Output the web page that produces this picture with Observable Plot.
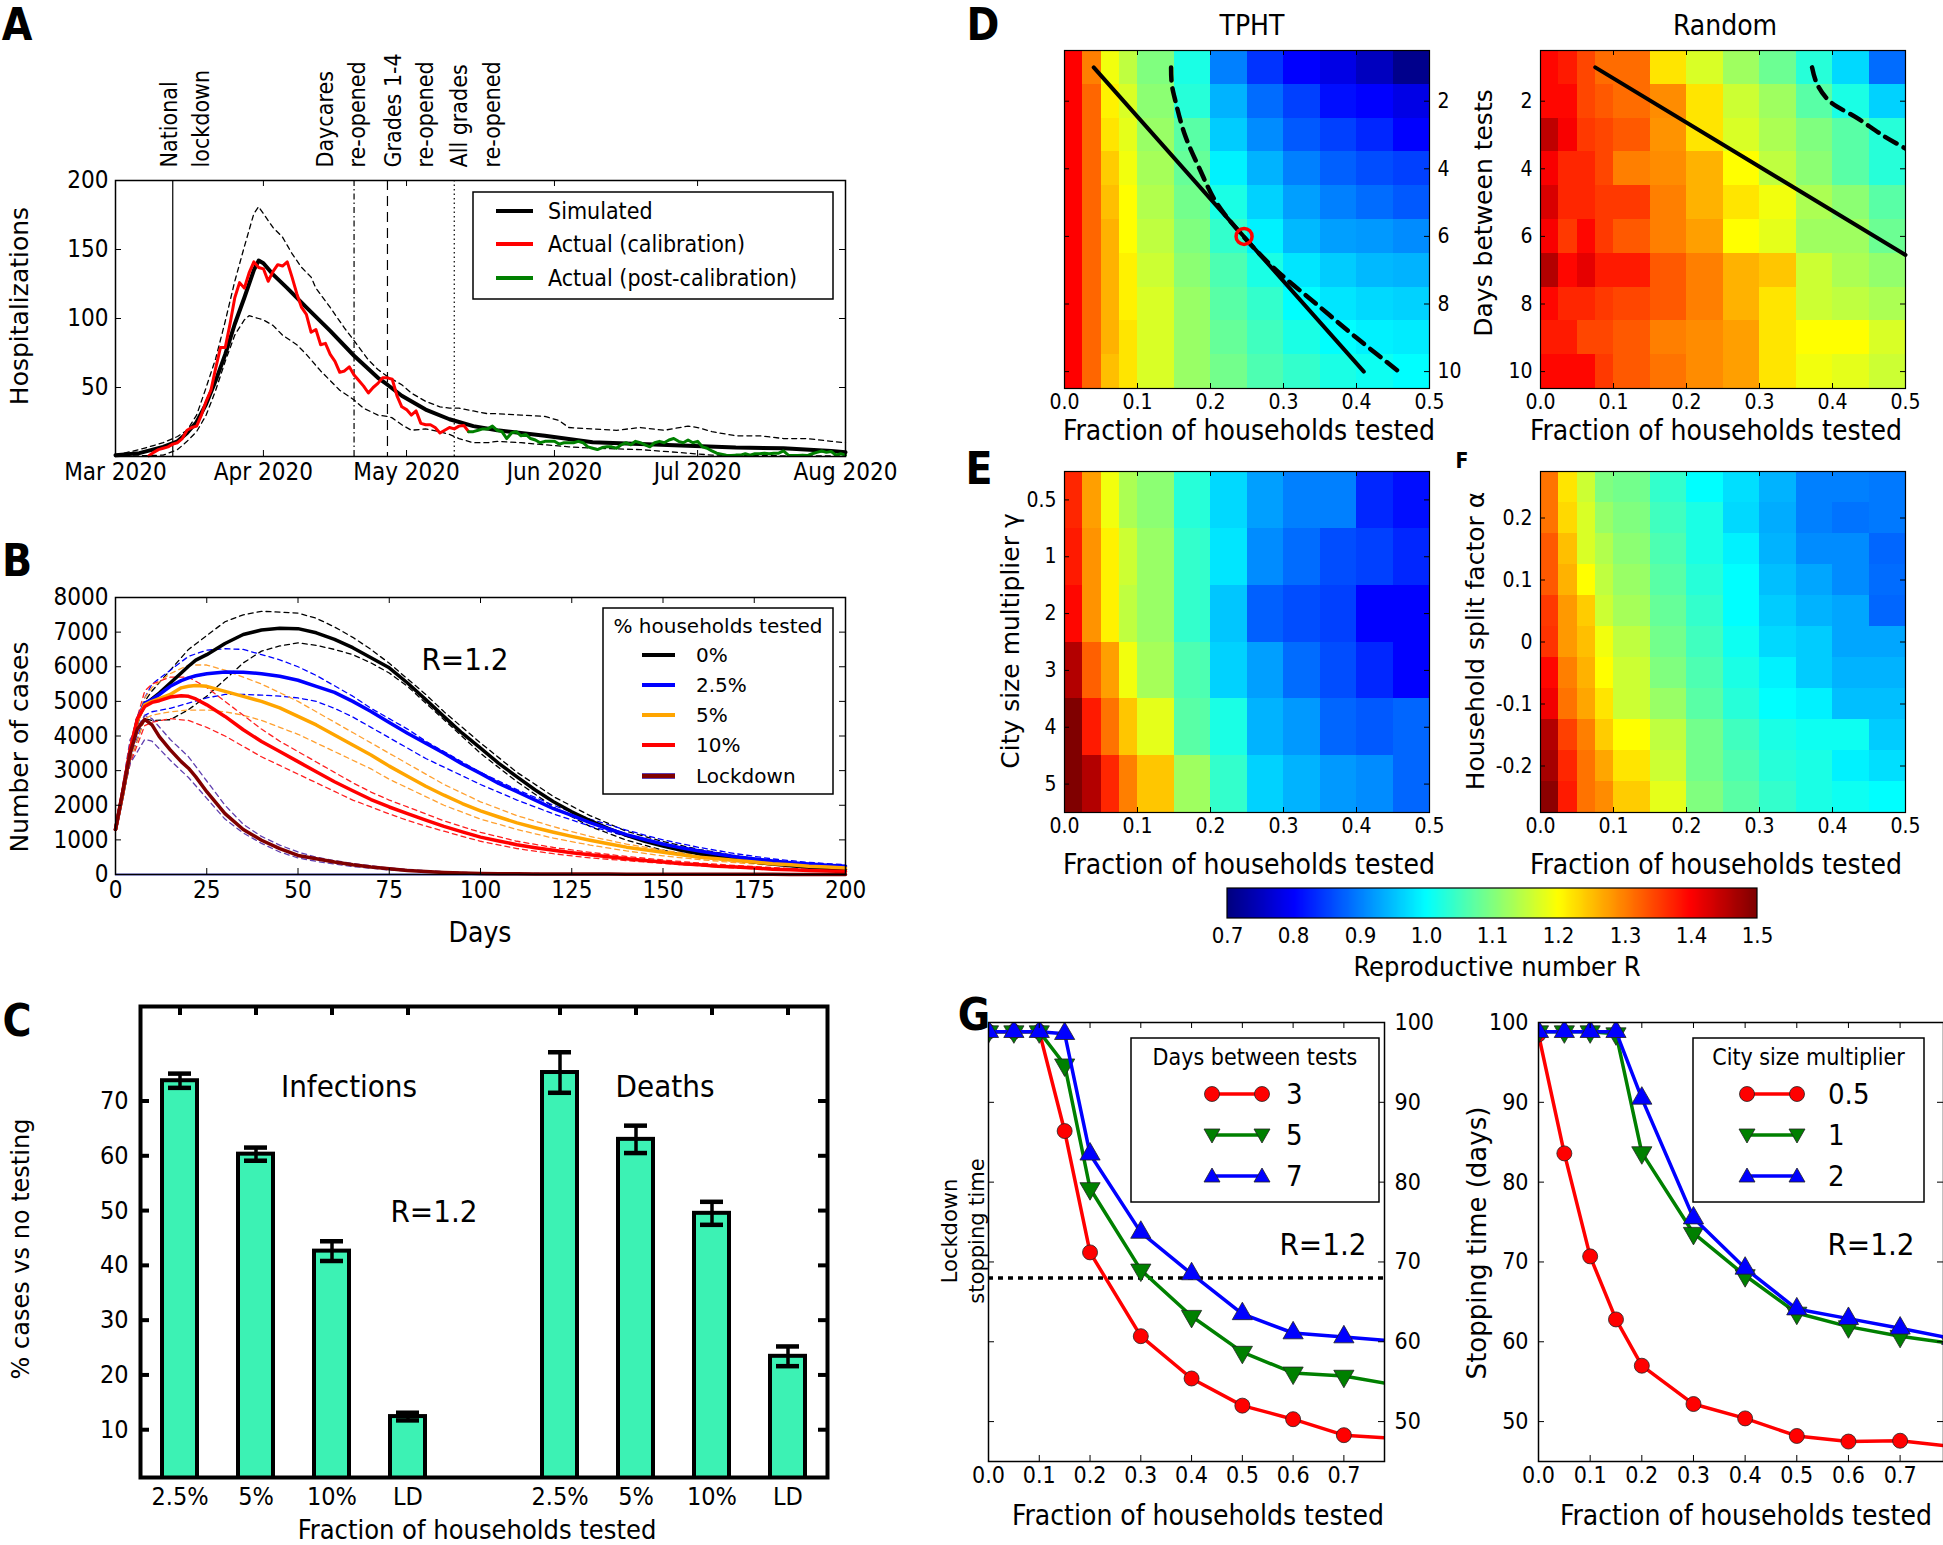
<!DOCTYPE html>
<html><head><meta charset="utf-8">
<script src="https://cdn.jsdelivr.net/npm/d3@7"></script>
<script src="https://cdn.jsdelivr.net/npm/@observablehq/plot@0.6"></script>
<style>
html,body{margin:0;padding:0;background:#fff;}
#root{position:relative;width:1943px;height:1545px;overflow:hidden;background:#fff;}
.abs{position:absolute;}
#cb line{display:none;}
#cb path.domain{display:none;}
</style></head><body><div id="root"></div>
<script>
// ---------------- DATA ----------------
// Panel A (days since 2020-03-01)
const aMonthTicks = ["2020-03-01","2020-04-01","2020-05-01","2020-06-01","2020-07-01","2020-08-01"];
const simDays = [0,5,10,13,15,17,19,21,23,25,27,29,30,31,33,36,40,45,50,55,57,60,65,70,75,80,90,100,110,120,130,140,150,153];
const simVals = [1,2.4,7,11,17,25,38,55,74,96,115,135,142,140,132,122,108,91,73,57,52,44,34,27,22,19,15,10.4,9,7.8,6.5,6,4,3];
const redStart = 7;
const redVals = [0.5,3,5,6,7,9,10,13,19,21,22,30,40,48,64,79,79,96,115,126,122,133,141,137,136,127,134,139,138,141,130,118,108,103,90,92,81,82,74,69,61,62,65,59,55,51,46,50,53,57,57,56,44,36,34,30,33,24,23,23,21,17,19,21,20,22,22.5,18];
const greenStart = 74;
const greenVals = [18,18,19,20,20,22,19,18,13,17,18,15,16,13,12,10,11,11,11,9,10,10,10,11,10,7,6,5,6.5,7,7,6,8.5,10,8.5,11,10,8.5,7,10,11,10,12,13,11,10,12,10,11,7,6,4,2.4,1.7,1,0.7,1,1,2,1,2,2,2.4,2,2.4,2.4,4,1,0.7,0.7,1,0.7,2,3,4,3,3.6,1,2,1];
const upDays = [0,5,10,13,15,17,19,21,23,25,27,29,30,31,33,35,37,39,41,42,45,48,50,53,55,57,60,62,65,68,70,72,75,78,80,85,90,93,95,100,105,110,115,120,122,125,130,135,140,145,150,153];
const upVals = [1,5,10,14.5,19,30,50,71,98,127,152,176,181,176,166,159,147,137,130,122,108,93,84,70,63,58,52,46,40,36,35,35,33,31,31,30,29,26,21,20,19,21,19,22,21,18,15,15,13,13,11,10];
const lowDays = [0,10,13,15,17,19,21,23,25,27,28.5,30,31,33,35,38,40,43,45,47,50,52,55,57,58,60,62,65,68,70,72,75,78,80,85,90,95,100,110,120,125,130,140,153];
const lowVals = [0,1,5,11,18,30,48,69,88,99,102,100,99,95,88,81,74,62,55,48,41,35,30,29,28,23,19,20,18,16,13,10,10,11,10,8.5,7,6,5,2.4,1,0.7,0.5,0.5];
const eventDates = ["2020-03-13","2020-04-20","2020-04-27","2020-05-11"];
const eventLabels = ["National\nlockdown","Daycares\nre-opened","Grades 1-4\nre-opened","All grades\nre-opened"];

// Panel B
const bDays = [0,2,4,6,8,10,12,15,18,20,22,25,30,35,40,45,50,55,60,65,70,75,80,85,90,95,100,105,110,115,120,125,130,135,140,145,150,155,160,165,170,175,180,185,190,195,200];
const b0   = [1300,2340,3500,4470,4900,5070,5240,5530,5820,6015,6190,6350,6670,6930,7060,7110,7100,6980,6790,6550,6260,5970,5530,5050,4560,4080,3650,3210,2820,2440,2100,1810,1560,1330,1130,960,820,700,600,510,430,360,300,250,210,175,145];
const b25  = [1300,2340,3500,4480,4950,5050,5200,5435,5600,5680,5740,5800,5850,5840,5800,5725,5610,5435,5260,5000,4710,4390,4080,3790,3500,3190,2920,2630,2390,2150,1900,1710,1500,1320,1150,1010,880,770,680,590,510,450,390,340,300,270,240];
const b5   = [1300,2340,3500,4450,4900,5000,5080,5200,5390,5435,5460,5435,5290,5145,5000,4810,4565,4320,4030,3740,3450,3130,2840,2550,2290,2050,1840,1660,1490,1350,1220,1100,990,890,790,715,640,570,500,455,405,360,310,280,240,215,190];
const b10  = [1300,2400,3600,4500,4850,4970,5020,5125,5160,5145,5070,4900,4565,4180,3840,3550,3260,2970,2680,2420,2165,1950,1760,1570,1390,1230,1080,970,860,775,700,630,570,510,455,405,360,310,280,240,215,185,155,135,115,100,90];
const bLD  = [1300,2400,3500,4200,4480,4320,3980,3600,3260,3070,2820,2390,1760,1300,990,745,550,455,360,280,215,165,115,90,60,40,30,25,20,18,15,13,12,11,10,9,8,7,6,5,5,4,4,3,3,3,3];
const bandDays = [0,4,8,10,15,20,25,30,35,40,45,50,55,60,65,70,75,80,85,90,95,100,110,120,130,140,150,160,170,180,190,200];
const b0Up  = [1300,3600,5000,5300,5900,6500,6900,7300,7500,7600,7580,7550,7400,7150,6850,6500,6100,5650,5200,4700,4250,3800,2950,2250,1700,1250,950,720,540,400,300,230];
const b0Lo  = [1300,3300,4500,4450,4470,4760,5150,5630,6110,6450,6600,6690,6620,6500,6350,6110,5820,5435,4950,4470,3985,3500,2680,1950,1390,990,700,500,380,290,215,165];
const b25Up = [1300,3700,5100,5500,5900,6300,6480,6520,6500,6350,6200,6000,5750,5450,5150,4800,4500,4200,3850,3550,3250,2950,2450,2000,1600,1280,1000,780,600,450,350,280];
const b25Lo = [1300,3300,4600,4700,4800,4950,5100,5200,5200,5180,5150,5100,5000,4800,4550,4250,3950,3650,3350,3100,2850,2600,2150,1750,1400,1100,850,650,500,380,290,220];
const b5Up  = [1300,3700,5100,5400,5800,6050,6050,5900,5700,5500,5250,5000,4700,4400,4100,3800,3500,3200,2900,2600,2350,2100,1700,1380,1100,880,700,560,450,350,280,220];
const b5Lo  = [1300,3300,4500,4600,4700,4750,4750,4700,4600,4450,4250,4050,3800,3550,3300,3050,2750,2500,2250,2000,1800,1600,1300,1050,850,680,540,430,340,270,210,160];
const b10Up = [1300,3800,5300,5500,5700,5700,5400,5000,4600,4200,3850,3550,3250,2950,2650,2380,2150,1950,1750,1550,1380,1220,960,780,640,520,420,330,260,200,150,120];
const b10Lo = [1300,3200,4300,4400,4500,4450,4250,4000,3700,3400,3150,2900,2650,2400,2150,1950,1750,1560,1400,1250,1100,960,750,600,480,400,320,250,190,150,110,80];
const bLDUp = [1300,3900,4600,4500,3900,3400,2700,2000,1450,1100,850,650,500,400,320,250,190,150,110,80,60,50,35,25,18,12,10,8,6,5,5,5];
const bLDLo = [1300,3200,3900,3850,3300,2800,2200,1600,1200,900,650,480,380,300,230,180,130,100,75,60,45,35,25,20,15,10,8,6,5,4,3,3];
const bLegendLabels = ["0%","2.5%","5%","10%","Lockdown"];

// Panel C
const cCats = ["i25","i5","i10","iLD","gap","d25","d5","d10","dLD"];
const cLabels = ["2.5%","5%","10%","LD","","2.5%","5%","10%","LD"];
const cMeans = [73.7,60.3,42.6,12.4,0,75.2,63.0,49.5,23.4];
const cErrs  = [1.3,1.2,1.8,0.7,0,3.7,2.5,2.1,1.8];

// Panels D/E/F (reproductive number R)
const colEdges = [0,0.025,0.05,0.075,0.1,0.15,0.2,0.25,0.3,0.35,0.4,0.45,0.5];
const dDays = [1,2,3,4,5,6,7,8,9,10];
const tphtR = [
 [1.40,1.30,1.19,1.15,1.10,1.02,0.90,0.84,0.80,0.78,0.75,0.71],
 [1.40,1.32,1.21,1.17,1.11,1.03,0.94,0.885,0.85,0.81,0.80,0.78],
 [1.40,1.32,1.22,1.18,1.12,1.07,0.96,0.91,0.87,0.85,0.83,0.80],
 [1.40,1.32,1.24,1.19,1.13,1.08,0.99,0.94,0.90,0.875,0.86,0.85],
 [1.40,1.32,1.25,1.20,1.14,1.09,1.02,0.965,0.925,0.90,0.885,0.87],
 [1.40,1.32,1.26,1.20,1.15,1.10,1.04,0.99,0.945,0.925,0.92,0.91],
 [1.40,1.32,1.26,1.21,1.16,1.11,1.06,1.02,0.98,0.96,0.945,0.94],
 [1.40,1.32,1.26,1.21,1.17,1.12,1.07,1.04,1.00,0.98,0.97,0.965],
 [1.40,1.32,1.26,1.22,1.17,1.12,1.08,1.05,1.02,1.00,0.99,0.985],
 [1.40,1.32,1.25,1.22,1.17,1.12,1.09,1.06,1.04,1.02,1.01,1.00]];
const randomR = [
 [1.395,1.38,1.345,1.315,1.315,1.22,1.17,1.125,1.085,1.03,0.97,0.885],
 [1.395,1.395,1.345,1.33,1.315,1.29,1.22,1.16,1.125,1.07,1.02,0.965],
 [1.45,1.405,1.355,1.345,1.33,1.285,1.22,1.17,1.135,1.10,1.07,1.03],
 [1.405,1.37,1.37,1.345,1.30,1.29,1.26,1.20,1.15,1.11,1.07,1.03],
 [1.43,1.37,1.37,1.355,1.355,1.30,1.26,1.22,1.19,1.135,1.11,1.07],
 [1.405,1.355,1.395,1.355,1.33,1.30,1.275,1.20,1.18,1.125,1.125,1.085],
 [1.46,1.395,1.42,1.38,1.38,1.33,1.30,1.26,1.245,1.16,1.135,1.115],
 [1.395,1.37,1.37,1.355,1.345,1.33,1.30,1.26,1.22,1.16,1.15,1.135],
 [1.38,1.38,1.345,1.345,1.33,1.30,1.29,1.275,1.22,1.20,1.20,1.17],
 [1.395,1.395,1.395,1.355,1.33,1.31,1.29,1.275,1.22,1.19,1.18,1.16]];
const tphtSolidX = [0.04,0.41], tphtSolidY = [1,10];
const tphtDashX = [0.146,0.147,0.152,0.165,0.185,0.208,0.245,0.29,0.345,0.40,0.458];
const tphtDashY = [1,1.5,2,3,4,5,6,7,8,9,10];
const randSolidX = [0.075,0.5], randSolidY = [1,6.55];
const randDashX = [0.372,0.379,0.396,0.434,0.468,0.5];
const randDashY = [1,1.5,2,2.5,3,3.4];
const markX = [0.246], markY = [6];
const cityLabels = ["0.5","1","2","3","4","5"];
const cityR = [
 [1.37,1.275,1.19,1.135,1.11,1.03,0.97,0.925,0.90,0.90,0.83,0.81],
 [1.38,1.285,1.21,1.16,1.12,1.04,0.98,0.91,0.885,0.86,0.85,0.83],
 [1.395,1.285,1.21,1.15,1.12,1.04,0.955,0.875,0.86,0.85,0.80,0.80],
 [1.46,1.325,1.275,1.19,1.13,1.06,0.965,0.925,0.885,0.86,0.83,0.80],
 [1.50,1.38,1.31,1.245,1.18,1.07,1.02,0.94,0.92,0.88,0.87,0.88],
 [1.50,1.46,1.37,1.30,1.245,1.125,1.04,0.965,0.94,0.92,0.91,0.88]];
const splitRows = [0.25,0.2,0.15,0.1,0.05,0,-0.05,-0.1,-0.15,-0.2,-0.25];
const splitR = [
 [1.31,1.22,1.16,1.10,1.09,1.04,1.00,0.975,0.94,0.90,0.90,0.895],
 [1.31,1.23,1.17,1.12,1.10,1.05,1.02,0.97,0.935,0.90,0.89,0.895],
 [1.33,1.25,1.17,1.14,1.11,1.06,1.02,0.99,0.94,0.91,0.91,0.88],
 [1.33,1.26,1.20,1.15,1.12,1.07,1.03,1.00,0.95,0.93,0.91,0.885],
 [1.355,1.28,1.24,1.16,1.13,1.08,1.04,1.00,0.96,0.94,0.93,0.88],
 [1.36,1.28,1.25,1.19,1.15,1.09,1.05,1.01,0.97,0.96,0.93,0.93],
 [1.395,1.30,1.26,1.20,1.16,1.10,1.06,1.02,0.99,0.96,0.94,0.94],
 [1.41,1.31,1.27,1.22,1.16,1.12,1.07,1.03,1.00,0.99,0.95,0.95],
 [1.46,1.35,1.30,1.24,1.20,1.15,1.09,1.05,1.02,1.01,1.01,0.96],
 [1.47,1.37,1.31,1.27,1.22,1.16,1.09,1.06,1.03,1.02,0.99,0.975],
 [1.49,1.38,1.31,1.29,1.24,1.18,1.10,1.07,1.04,1.02,1.01,1.00]];

// Panel G
const gX = [0,0.05,0.1,0.15,0.2,0.3,0.4,0.5,0.6,0.7,0.8];
const gDays3 = [98.85,98.85,98.85,86.4,71.2,60.7,55.4,52.0,50.3,48.3,47.9];
const gDays5 = [98.85,98.85,98.85,94.7,79.2,69.0,63.2,58.7,56.1,55.7,54.6];
const gDays7 = [98.85,98.85,98.85,98.6,83.5,73.7,68.5,63.5,61.1,60.6,60.1];
const gCity05 = [98.5,83.6,70.7,62.8,57.0,52.2,50.4,48.2,47.5,47.6,46.9];
const gCity1  = [98.85,98.85,98.85,98.6,83.7,73.6,68.3,63.6,61.9,60.7,59.8];
const gCity2  = [98.85,98.85,98.85,98.85,90.5,75.5,69.2,64.1,62.9,61.7,60.4];
const lockdownStop = [68];

// ---------------- HELPERS ----------------
const COND = '"DejaVu Sans Condensed","Liberation Sans Narrow","DejaVu Sans",sans-serif';
const SANS = '"DejaVu Sans","Noto Sans",sans-serif';
const root = document.getElementById("root");
const dt = d => new Date(Date.UTC(2020, 2, 1 + d));
function place(node, left, top) {
  const d = document.createElement("div"); d.className = "abs";
  d.style.left = left + "px"; d.style.top = top + "px"; d.appendChild(node); root.appendChild(d); return d;
}
function baseStyle(size) {
  return {fontFamily: COND, fontStretch: "condensed", fontSize: size + "px", background: "transparent", overflow: "visible", color: "black"};
}
function jet(t) {
  const c = v => Math.max(0, Math.min(1, v));
  const r = c(1.5 - Math.abs(4 * t - 3)), g = c(1.5 - Math.abs(4 * t - 2)), b = c(1.5 - Math.abs(4 * t - 1));
  return `rgb(${Math.round(r * 255)},${Math.round(g * 255)},${Math.round(b * 255)})`;
}
function tickMarksX(vals, H, len, sw, top = true, bottom = true) {
  const m = [];
  if (bottom) m.push(Plot.tickX(vals, {x: d => d, insetTop: H - len, strokeWidth: sw}));
  if (top) m.push(Plot.tickX(vals, {x: d => d, insetBottom: H - len, strokeWidth: sw}));
  return m;
}
function tickMarksY(vals, W, len, sw, left = true, right = true) {
  const m = [];
  if (left) m.push(Plot.tickY(vals, {y: d => d, insetRight: W - len, strokeWidth: sw}));
  if (right) m.push(Plot.tickY(vals, {y: d => d, insetLeft: W - len, strokeWidth: sw}));
  return m;
}
const pts = (xs, ys) => xs.map((x, i) => ({x, y: ys[i]}));

// ---------------- PANEL A ----------------
{
  const W = 730, H = 276;
  const months = aMonthTicks.map(s => new Date(s));
  const sim = simDays.map((d, i) => ({x: dt(d), y: simVals[i]}));
  const red = redVals.map((v, i) => ({x: dt(redStart + i), y: v}));
  const green = greenVals.map((v, i) => ({x: dt(greenStart + i), y: v}));
  const up = upDays.map((d, i) => ({x: dt(d), y: upVals[i]}));
  const lo = lowDays.map((d, i) => ({x: dt(d), y: lowVals[i]}));
  const ev = eventDates.map((s, i) => ({x: new Date(s), label: eventLabels[i]}));
  const evDash = [null, "6,3,1.5,3", "10,6", "1.5,3"];
  const evDx = [10, -15, 19, 19];
  const marks = [
    Plot.line(up, {x: "x", y: "y", strokeWidth: 1.3, strokeDasharray: "5,4"}),
    Plot.line(lo, {x: "x", y: "y", strokeWidth: 1.3, strokeDasharray: "5,4"}),
  ];
  ev.forEach((e, i) => {
    marks.push(Plot.ruleX([e], {x: "x", strokeWidth: 1.2, strokeDasharray: evDash[i]}));
    marks.push(Plot.text([e], {x: "x", frameAnchor: "top", text: "label", rotate: -90, textAnchor: "start",
      lineAnchor: "middle", lineHeight: 1.4, dx: evDx[i], dy: -13, fontFamily: SANS, fontSize: 23}));
  });
  marks.push(
    Plot.line(sim, {x: "x", y: "y", strokeWidth: 4}),
    Plot.line(red, {x: "x", y: "y", stroke: "#ff0000", strokeWidth: 3}),
    Plot.line(green, {x: "x", y: "y", stroke: "#008000", strokeWidth: 3}),
    ...tickMarksX(months, H, 6, 1),
    ...tickMarksY([50, 100, 150, 200], W, 6, 1),
    Plot.frame({strokeWidth: 1.5}),
    Plot.axisX(months, {tickSize: 0, tickPadding: 6, tickFormat: d3.utcFormat("%b %Y"), label: null}),
    Plot.axisY([50, 100, 150, 200], {tickSize: 0, tickPadding: 7, label: null})
  );
  const p = Plot.plot({width: 905, height: 506, marginLeft: 115, marginRight: 60, marginTop: 180, marginBottom: 50,
    style: baseStyle(24), x: {type: "utc", domain: [dt(0), dt(153)]}, y: {domain: [0, 200]}, marks});
  place(p, 0, 0);
}

// ---------------- PANEL B ----------------
{
  const W = 730, H = 277;
  const series = [[b0, "#000000"], [b25, "#0000ff"], [b5, "#ffa500"], [b10, "#ff0000"], [bLD, "#800000"]];
  const bands = [[b0Up, "#000000"], [b0Lo, "#000000"], [b25Up, "#0000ff"], [b25Lo, "#0000ff"], [b5Up, "#ffa030"], [b5Lo, "#ffa030"],
                 [b10Up, "#ff2020"], [b10Lo, "#ff2020"], [bLDUp, "#6040b0"], [bLDLo, "#6040b0"]];
  const marks = [];
  bands.forEach(([v, c]) => marks.push(Plot.line(pts(bandDays, v), {x: "x", y: "y", stroke: c, strokeWidth: 1.3, strokeDasharray: "5,4"})));
  marks.push(Plot.ruleY([0], {stroke: "#0000ff", strokeWidth: 1.5}));
  series.forEach(([v, c]) => marks.push(Plot.line(pts(bDays, v), {x: "x", y: "y", stroke: c, strokeWidth: 3.5})));
  const xt = d3.range(0, 201, 25), yt = d3.range(0, 8001, 1000);
  marks.push(
    ...tickMarksX(xt, H, 6, 1),
    ...tickMarksY(yt, W, 6, 1),
    Plot.frame({strokeWidth: 1.5}),
    Plot.axisX(xt, {tickSize: 0, tickPadding: 6, tickFormat: d => String(d), label: null}),
    Plot.axisY(yt, {tickSize: 0, tickPadding: 7, tickFormat: d => String(d), label: null})
  );
  const p = Plot.plot({width: 905, height: 347, marginLeft: 115, marginRight: 60, marginTop: 20, marginBottom: 50,
    style: baseStyle(24), x: {domain: [0, 200]}, y: {domain: [0, 8000]}, marks});
  place(p, 0, 577);
}

// ---------------- PANEL C ----------------
{
  const W = 687, H = 471;
  const data = cCats.map((c, i) => ({c, v: cMeans[i], e: cErrs[i]}));
  const bars = data.filter(d => d.v > 0);
  const yt = [10, 20, 30, 40, 50, 60, 70];
  const marks = [
    Plot.barY(bars, {x: "c", y: "v", fill: "#3cf2b4", stroke: "#000", strokeWidth: 4, clip: true}),
    Plot.ruleX(bars, {x: "c", y1: d => d.v - d.e, y2: d => d.v + d.e, strokeWidth: 3.5}),
    Plot.tickY(bars, {x: "c", y: d => d.v + d.e, insetLeft: 6, insetRight: 6, strokeWidth: 4.5}),
    Plot.tickY(bars, {x: "c", y: d => d.v - d.e, insetLeft: 6, insetRight: 6, strokeWidth: 4.5}),
    Plot.tickX(bars.map(d => d.c), {x: d => d, insetBottom: H - 9, strokeWidth: 4}),
    ...tickMarksY(yt, W, 9, 4),
    Plot.frame({strokeWidth: 4}),
    Plot.axisX(cCats, {tickSize: 0, tickPadding: 10, tickFormat: d => cLabels[cCats.indexOf(d)], label: null}),
    Plot.axisY(yt, {tickSize: 0, tickPadding: 12, label: null})
  ];
  const p = Plot.plot({width: 857, height: 536, marginLeft: 140, marginRight: 30, marginTop: 20, marginBottom: 45,
    style: baseStyle(25), x: {type: "band", domain: cCats, paddingInner: 0.54, paddingOuter: 0.27},
    y: {domain: [1.28, 87.25]}, marks});
  place(p, 0, 986);
}

// ---------------- HEATMAPS ----------------
const colorOpt = {type: "linear", domain: [0.7, 1.5], interpolate: jet, clamp: true};
function cellsFrom(matrix, rowVals, half) {
  const out = [];
  matrix.forEach((row, i) => row.forEach((r, j) => out.push({x1: colEdges[j], x2: colEdges[j + 1], y1: rowVals[i] - half, y2: rowVals[i] + half, r})));
  return out;
}
function heatmap({cells, W, H, ml, mr, yDomain, yTicks, yFormat, yAnchor, extra = []}) {
  const xt = [0, 0.1, 0.2, 0.3, 0.4, 0.5];
  return Plot.plot({width: ml + W + mr, height: 10 + H + 40, marginLeft: ml, marginRight: mr, marginTop: 10, marginBottom: 40,
    style: baseStyle(21), x: {domain: [0, 0.5]}, y: {domain: yDomain, reverse: true}, color: colorOpt,
    marks: [
      Plot.rect(cells, {x1: "x1", x2: "x2", y1: "y1", y2: "y2", fill: "r", shapeRendering: "crispEdges"}),
      ...extra,
      ...tickMarksX(xt, H, 5, 1),
      ...tickMarksY(yTicks, W, 5, 1),
      Plot.frame({strokeWidth: 1.2}),
      Plot.axisX(xt, {tickSize: 0, tickPadding: 6, tickFormat: d3.format(".1f"), label: null}),
      Plot.axisY(yTicks, {anchor: yAnchor, tickSize: 0, tickPadding: 8, tickFormat: yFormat, label: null})
    ]});
}
// D left (TPHT)
place(heatmap({cells: cellsFrom(tphtR, dDays, 0.5), W: 365, H: 338, ml: 20, mr: 50, yDomain: [0.5, 10.5],
  yTicks: [2, 4, 6, 8, 10], yFormat: d => d, yAnchor: "right",
  extra: [
    Plot.line(pts(tphtSolidX, tphtSolidY), {x: "x", y: "y", strokeWidth: 4}),
    Plot.line(pts(tphtDashX, tphtDashY), {x: "x", y: "y", strokeWidth: 4.5, strokeDasharray: "13,8", curve: "catmull-rom"}),
    Plot.dot(pts(markX, markY), {x: "x", y: "y", r: 8, stroke: "#ff0000", strokeWidth: 3.5, fill: "none"})
  ]}), 1044, 40);
// D right (Random)
place(heatmap({cells: cellsFrom(randomR, dDays, 0.5), W: 365, H: 338, ml: 50, mr: 20, yDomain: [0.5, 10.5],
  yTicks: [2, 4, 6, 8, 10], yFormat: d => d, yAnchor: "left",
  extra: [
    Plot.line(pts(randSolidX, randSolidY), {x: "x", y: "y", strokeWidth: 4}),
    Plot.line(pts(randDashX, randDashY), {x: "x", y: "y", strokeWidth: 4.5, strokeDasharray: "13,8", curve: "catmull-rom", clip: true})
  ]}), 1490, 40);
// E
place(heatmap({cells: cellsFrom(cityR, [0, 1, 2, 3, 4, 5], 0.5), W: 365, H: 341, ml: 50, mr: 20, yDomain: [-0.5, 5.5],
  yTicks: [0, 1, 2, 3, 4, 5], yFormat: i => cityLabels[i], yAnchor: "left"}), 1014, 461);
// F
place(heatmap({cells: cellsFrom(splitR, splitRows, 0.025), W: 365, H: 341, ml: 70, mr: 20, yDomain: [0.275, -0.275],
  yTicks: [-0.2, -0.1, 0, 0.1, 0.2], yFormat: d => (d === 0 ? "0" : d.toFixed(1)), yAnchor: "left"}), 1470, 461);

// colour bar
{
  const lg = Plot.legend({color: {...colorOpt, ticks: 9, tickFormat: ".1f", label: null},
    label: null, ticks: 9, tickFormat: ".1f", width: 560, height: 62, marginTop: 0, marginBottom: 32, marginLeft: 15, marginRight: 15,
    tickSize: 6, style: {fontFamily: COND, fontStretch: "condensed", fontSize: "22px", overflow: "visible", background: "transparent"}});
  const d = place(lg, 1212, 888); d.id = "cb";
}

// ---------------- PANEL G ----------------
function gPlot({series, W, ml, mr, xMax, yAnchor}) {
  const H = 439;
  const xt = [0, 0.1, 0.2, 0.3, 0.4, 0.5, 0.6, 0.7], yt = [50, 60, 70, 80, 90, 100];
  const marks = [Plot.ruleY(lockdownStop, {strokeWidth: 3.5, strokeDasharray: "5,5"})].slice(yAnchor === "right" ? 0 : 1);
  series.forEach(s => {
    const data = pts(gX, s.v);
    marks.push(Plot.line(data, {x: "x", y: "y", stroke: s.c, strokeWidth: 3.5, clip: true}));
    marks.push(Plot.dot(data, {x: "x", y: "y", symbol: s.sym, rotate: s.rot, r: 7.5, fill: s.c, stroke: "#222", strokeWidth: 0.8, clip: true}));
  });
  marks.push(
    ...tickMarksX(xt, H, 6, 1),
    ...tickMarksY(yt, W, 6, 1),
    Plot.frame({strokeWidth: 1.5}),
    Plot.axisX(xt, {tickSize: 0, tickPadding: 5, tickFormat: d3.format(".1f"), label: null}),
    Plot.axisY(yt, {anchor: yAnchor, tickSize: 0, tickPadding: 10, label: null})
  );
  return Plot.plot({width: ml + W + mr, height: 10 + H + 40, marginLeft: ml, marginRight: mr, marginTop: 10, marginBottom: 40,
    style: baseStyle(23), x: {domain: [0, xMax]}, y: {domain: [45, 100]}, marks});
}
place(gPlot({W: 396, ml: 10, mr: 55, xMax: 0.78, yAnchor: "right", series: [
  {v: gDays3, c: "#ff0000", sym: "circle", rot: 0},
  {v: gDays5, c: "#008000", sym: "triangle", rot: 180},
  {v: gDays7, c: "#0000ff", sym: "triangle", rot: 0}]}), 978, 1012);
place(gPlot({W: 405, ml: 60, mr: 0, xMax: 0.784, yAnchor: "left", series: [
  {v: gCity05, c: "#ff0000", sym: "circle", rot: 0},
  {v: gCity1, c: "#008000", sym: "triangle", rot: 180},
  {v: gCity2, c: "#0000ff", sym: "triangle", rot: 0}]}), 1478, 1012);

// ---------------- OVERLAY: labels & legends ----------------
const NS = "http://www.w3.org/2000/svg";
const ov = document.createElementNS(NS, "svg");
ov.setAttribute("width", 1943); ov.setAttribute("height", 1545);
ov.style.position = "absolute"; ov.style.left = "0"; ov.style.top = "0";
root.appendChild(ov);
function el(tag, attrs, parent = ov) { const e = document.createElementNS(NS, tag); for (const k in attrs) e.setAttribute(k, attrs[k]); parent.appendChild(e); return e; }
function T(s, x, y, {size = 24, fam = COND, rot = 0, weight = "normal", anchor = "middle"} = {}) {
  const t = el("text", {x, y, "text-anchor": anchor, "dominant-baseline": "central", "font-size": size, "font-family": fam, "font-weight": weight});
  if (rot) t.setAttribute("transform", `rotate(${rot} ${x} ${y})`);
  t.style.fontStretch = fam === COND ? "condensed" : "normal";
  t.textContent = s; return t;
}
// panel letters
[["A", 17, 24], ["B", 17, 560], ["C", 17, 1020], ["D", 983, 24], ["E", 979, 468], ["G", 974, 1014]].forEach(([s, x, y]) => T(s, x, y, {size: 44, weight: "bold"}));
T("F", 1462, 461, {size: 21, weight: "bold"});
// axis titles
T("Hospitalizations", 19, 306, {size: 25, fam: SANS, rot: -90});
T("Number of cases", 19, 747, {size: 25, fam: SANS, rot: -90});
T("Days", 480, 932, {size: 28});
T("R=1.2", 465, 659, {size: 31});
T("% cases vs no testing", 21, 1249, {size: 24, fam: SANS, rot: -90});
T("Fraction of households tested", 477, 1529, {size: 27});
T("Infections", 349, 1086, {size: 31});
T("Deaths", 665, 1086, {size: 31});
T("R=1.2", 434, 1211, {size: 31});
T("TPHT", 1252, 25, {size: 28});
T("Random", 1725, 25, {size: 28});
T("Days between tests", 1483, 213, {size: 25, fam: SANS, rot: -90});
T("Fraction of households tested", 1249, 430, {size: 28});
T("Fraction of households tested", 1716, 430, {size: 28});
T("City size multiplier γ", 1010, 641, {size: 25, fam: SANS, rot: -90});
T("Household split factor α", 1475, 641, {size: 25, fam: SANS, rot: -90});
T("Fraction of households tested", 1249, 864, {size: 28});
T("Fraction of households tested", 1716, 864, {size: 28});
T("Reproductive number R", 1497, 966, {size: 27});
el("rect", {x: 1227, y: 888, width: 530, height: 30, fill: "none", stroke: "#000", "stroke-width": 1.2});
T("Lockdown", 950, 1231, {size: 21, fam: SANS, rot: -90});
T("stopping time", 977, 1231, {size: 21, fam: SANS, rot: -90});
T("Stopping time (days)", 1477, 1243, {size: 26, fam: SANS, rot: -90});
T("Fraction of households tested", 1198, 1515, {size: 28});
T("Fraction of households tested", 1746, 1515, {size: 28});
T("R=1.2", 1323, 1244, {size: 31});
T("R=1.2", 1871, 1244, {size: 31});

// legend A
el("rect", {x: 473, y: 192, width: 360, height: 107, fill: "#fff", stroke: "#000", "stroke-width": 1.5});
[["Simulated", "#000", 211], ["Actual (calibration)", "#ff0000", 244], ["Actual (post-calibration)", "#008000", 278]].forEach(([s, c, y]) => {
  el("line", {x1: 496, x2: 533, y1: y, y2: y, stroke: c, "stroke-width": 4});
  T(s, 548, y, {size: 23, anchor: "start"});
});
// legend B
el("rect", {x: 603, y: 608, width: 230, height: 186, fill: "#fff", stroke: "#000", "stroke-width": 1.5});
T("% households tested", 718, 626, {size: 20, fam: SANS});
const bCols = ["#000000", "#0000ff", "#ffa500", "#ff0000", "#800000"];
[655, 685, 715, 745, 776].forEach((y, i) => {
  if (i === 4) el("line", {x1: 642, x2: 675, y1: y, y2: y, stroke: "#6040b0", "stroke-width": 6});
  el("line", {x1: 642, x2: 675, y1: y, y2: y, stroke: bCols[i], "stroke-width": 4});
  T(bLegendLabels[i], 696, y, {size: 20, fam: SANS, anchor: "start"});
});
// legends G
function marker(sym, cx, cy, c) {
  if (sym === "circle") el("circle", {cx, cy, r: 7.5, fill: c, stroke: "#222", "stroke-width": 0.8});
  else if (sym === "down") el("path", {d: `M${cx - 8},${cy - 6}L${cx + 8},${cy - 6}L${cx},${cy + 8}Z`, fill: c, stroke: "#222", "stroke-width": 0.8});
  else el("path", {d: `M${cx - 8},${cy + 6}L${cx + 8},${cy + 6}L${cx},${cy - 8}Z`, fill: c, stroke: "#222", "stroke-width": 0.8});
}
function gLegend(x, w, title, labels, sx1, sx2, tx) {
  el("rect", {x, y: 1038, width: w, height: 164, fill: "#fff", stroke: "#000", "stroke-width": 1.5});
  T(title, x + w / 2, 1057, {size: 23});
  const cols = ["#ff0000", "#008000", "#0000ff"], syms = ["circle", "down", "up"];
  [1094, 1135, 1176].forEach((y, i) => {
    el("line", {x1: sx1, x2: sx2, y1: y, y2: y, stroke: cols[i], "stroke-width": 3.5});
    marker(syms[i], sx1, y, cols[i]); marker(syms[i], sx2, y, cols[i]);
    T(labels[i], tx, y, {size: 29, anchor: "start"});
  });
}
gLegend(1131, 248, "Days between tests", ["3", "5", "7"], 1212, 1262, 1286);
gLegend(1693, 231, "City size multiplier", ["0.5", "1", "2"], 1747, 1797, 1828);
</script></body></html>
